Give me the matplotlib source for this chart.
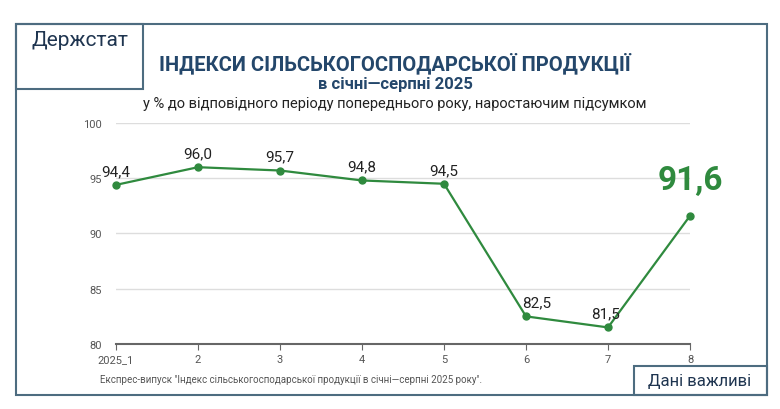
import matplotlib.pyplot as plt
from matplotlib.patches import Rectangle

months = [1, 2, 3, 4, 5, 6, 7, 8]
tick_labels = ["2025_1", "2", "3", "4", "5", "6", "7", "8"]
values = [94.4, 96.0, 95.7, 94.8, 94.5, 82.5, 81.5, 91.6]
value_labels = ["94,4", "96,0", "95,7", "94,8", "94,5", "82,5", "81,5", "91,6"]

plt.rcParams["font.family"] = "Roboto"
GREEN = "#2f8a3e"
NAVY = "#24476b"
FRAME = "#4d6c80"
W, H = 780, 410

fig = plt.figure(figsize=(7.8, 4.1), dpi=100)
fig.patch.set_facecolor("white")

def px(x, y, w, h):
    return [x / W, 1 - (y + h) / H, w / W, h / H]

# outer frame and corner boxes
fig.add_artist(Rectangle((16 / W, 1 - 396 / H), 751 / W, 371 / H, transform=fig.transFigure,
                         fill=False, ec=FRAME, lw=1.5))
fig.add_artist(Rectangle((16 / W, 1 - 90 / H), 127 / W, 65 / H, transform=fig.transFigure,
                         fill=False, ec=FRAME, lw=1.5))
fig.add_artist(Rectangle((634 / W, 1 - 396 / H), 133 / W, 29 / H, transform=fig.transFigure,
                         fill=False, ec=FRAME, lw=1.5))
fig.text(80 / W, 1 - 40 / H, "Держстат", ha="center", va="center", fontsize=15, color="#1f3550")
fig.text(700 / W, 1 - 382 / H, "Дані важливі", ha="center", va="center", fontsize=12, color="#1f3550")

fig.text(395 / W, 1 - 63 / H, "ІНДЕКСИ СІЛЬСЬКОГОСПОДАРСЬКОЇ ПРОДУКЦІЇ", ha="center", va="center",
         fontsize=14.5, fontweight="bold", color=NAVY)
fig.text(395 / W, 1 - 84 / H, "в січні—серпні 2025", ha="center", va="center",
         fontsize=12, fontweight="bold", color=NAVY)
fig.text(395 / W, 1 - 104 / H, "у % до відповідного періоду попереднього року, наростаючим підсумком",
         ha="center", va="center", fontsize=10.5, color="#222222")
fig.text(100 / W, 1 - 380 / H, "Експрес-випуск \"Індекс сільськогосподарської продукції в січні—серпні 2025 року\".",
         ha="left", va="center", fontsize=7, color="#555555")

ax = fig.add_axes(px(116, 124, 574, 221))
ax.plot(months, values, color=GREEN, lw=1.6, marker="o", ms=5, clip_on=False)
ax.set_xlim(1, 8)
ax.set_ylim(80, 100)
ax.set_yticks([80, 85, 90, 95, 100])
ax.set_xticks(months)
ax.set_xticklabels(tick_labels)
ax.grid(axis="y", color="#dddddd", lw=1)
ax.set_axisbelow(True)
for s in ["top", "right", "left"]:
    ax.spines[s].set_visible(False)
ax.spines["bottom"].set_color("#666666")
ax.spines["bottom"].set_linewidth(1.5)
ax.tick_params(axis="y", length=0, labelsize=8, labelcolor="#555555", pad=10)
ax.tick_params(axis="x", length=4, color="#666666", labelsize=8, labelcolor="#555555")

for x, v, lab in zip(months, values, value_labels):
    if x == 8:
        ax.annotate(lab, (x, v), xytext=(0, 14), textcoords="offset points", ha="center", va="bottom",
                    fontsize=24, fontweight="bold", color=GREEN)
    elif x in (6, 7):
        ax.annotate(lab, (x, v), xytext=(8 if x == 6 else -2, 5), textcoords="offset points",
                    ha="center", va="bottom", fontsize=11, color="#222222")
    else:
        ax.annotate(lab, (x, v), xytext=(0, 5), textcoords="offset points", ha="center",
                    va="bottom", fontsize=11, color="#222222")

fig.savefig("out.png", dpi=100)
